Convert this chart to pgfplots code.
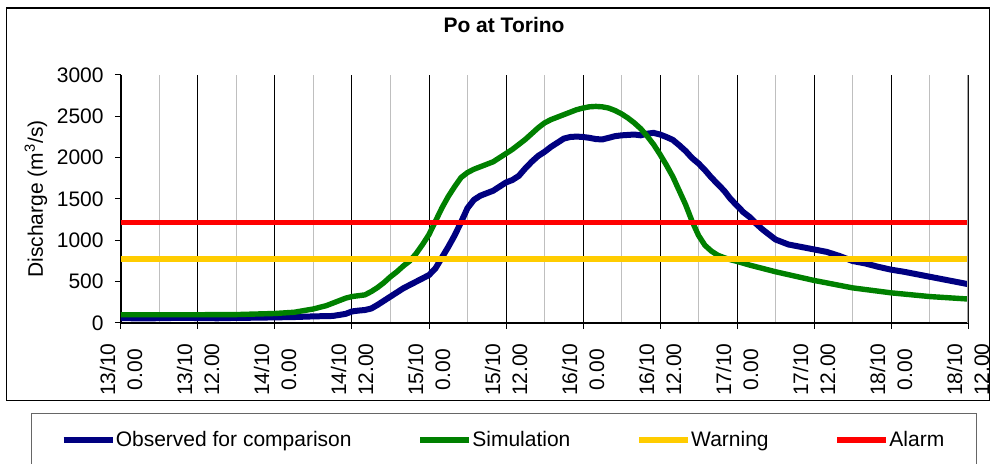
\documentclass[border=0pt]{standalone}
\usepackage{fontspec}
\setmainfont{Liberation Sans}
\usepackage{pgfplots}
\pgfplotsset{compat=1.18}
\definecolor{obsblue}{RGB}{0,0,128}
\definecolor{simgreen}{RGB}{0,128,0}
\definecolor{warnyellow}{RGB}{255,204,0}
\definecolor{alarmred}{RGB}{255,0,0}
\begin{document}
\fontsize{10.5}{13.5}\selectfont
\begin{tikzpicture}[font=\fontsize{10.5}{13.5}\selectfont]
\path[use as bounding box] (-60.5pt,-70.5pt) rectangle (435pt,161.5pt);
\begin{axis}[
  scale only axis, width=423.5pt, height=124pt,
  xmin=0, xmax=132, ymin=0, ymax=3000,
  separate axis lines,
  axis x line*=bottom, axis y line*=left,
  axis line style={-, black, line width=0.6pt},
  tick align=outside, major tick length=3pt, minor tick length=0pt,
  tick style={black, line width=0.5pt},
  xtick={0,12,...,132},
  minor xtick={6,18,...,126},
  xticklabels={{13/10\\0.00},{13/10\\12.00},{14/10\\0.00},{14/10\\12.00},{15/10\\0.00},{15/10\\12.00},{16/10\\0.00},{16/10\\12.00},{17/10\\0.00},{17/10\\12.00},{18/10\\0.00},{18/10\\12.00}},
  xticklabel style={rotate=90, anchor=east, align=center, inner sep=0pt},
  xticklabel shift=7pt,
  ytick={0,500,...,3000},
  yticklabel style={inner sep=0pt, anchor=east},
  yticklabel shift=5.5pt,
  /pgf/number format/assume math mode=true,
  /pgf/number format/1000 sep={},
  xmajorgrids, xminorgrids,
  major x grid style={black, line width=0.5pt},
  minor x grid style={black!25, line width=0.6pt},
  ylabel={Discharge (m\textsuperscript{3}/s)},
  ylabel style={at={(axis description cs:-0.1004,0.5)}, anchor=center, rotate=0},
  title={\textbf{Po at Torino}},
  title style={at={(axis description cs:0.4522,1.1532)}, anchor=center, inner sep=0pt},
  legend columns=4,
  legend style={draw=none, fill=none, at={(axis description cs:-0.0720,-0.4718)}, anchor=west, inner sep=0pt,
    nodes={inner sep=0pt, anchor=west},
    /tikz/every even column/.append style={column sep=32.7pt}},
  legend image code/.code={\draw[#1, line width=3.2pt] (0pt,0pt) -- (24.5pt,0pt);},
]
\addplot[obsblue, line width=3pt, line join=round] coordinates {
(0,60) (3,55) (6,58) (9,62) (12,60) (15,57) (18,62) (21,64) (24,68) (27,72) (30,80) (33,85) (35,110) (36,140)
(37,150) (38,157) (39,175) (40,220) (41,270) (42,320) (43,370) (44,420) (45,460)
(46,500) (47,540) (48,580) (49,660) (50,790) (51,920) (52,1060) (53,1220) (54,1390)
(55,1490) (56,1540) (57,1570) (58,1600) (59,1650) (60,1700) (61,1730) (62,1780)
(63,1870) (64,1950) (65,2020) (66,2070) (67,2130) (68,2180) (69,2230) (70,2250)
(71,2255) (72,2250) (73,2240) (74,2225) (75,2220) (76,2240) (77,2260) (78,2270)
(79,2275) (80,2280) (81,2270) (82,2290) (83,2300) (84,2280) (85,2250) (86,2215)
(87,2150) (88,2080) (89,1995) (90,1930) (91,1850) (92,1760) (93,1680) (94,1600)
(95,1500) (96,1420) (97,1340) (98,1280) (99,1200) (100,1130) (101,1070) (102,1010)
(103,980) (104,950) (106,920) (108,890) (110,860) (112,810) (114,750) (116,720)
(118,680) (120,645) (122,620) (124,590) (126,560) (128,530) (130,500) (132,470)
};
\addlegendentry{Observed for comparison}
\addplot[simgreen, line width=2.7pt, line join=round] coordinates {
(0,100) (6,100) (12,100) (18,102) (24,115) (27,130) (30,170) (32,210) (33,240)
(34,270) (35,300) (36,320) (37,330) (38,340) (39,380) (40,430) (41,490) (42,560)
(43,620) (44,690) (45,750) (46,840) (47,950) (48,1070) (49,1230) (50,1390)
(51,1530) (52,1650) (53,1760) (54,1820) (55,1860) (56,1890) (57,1920) (58,1950)
(59,2000) (60,2050) (61,2100) (62,2160) (63,2220) (64,2290) (65,2360) (66,2420)
(67,2460) (68,2490) (69,2520) (70,2550) (71,2580) (72,2600) (73,2615) (74,2620)
(75,2615) (76,2600) (77,2570) (78,2530) (79,2480) (80,2420) (81,2350) (82,2260)
(83,2160) (84,2040) (85,1910) (86,1770) (87,1600) (88,1430) (89,1230) (90,1060)
(91,940) (92,870) (93,820) (94,790) (95,765) (96,745) (98,700) (100,660) (102,620)
(104,585) (106,550) (108,515) (110,485) (112,455) (114,425) (116,405) (118,385)
(120,365) (122,350) (124,335) (126,320) (128,310) (130,300) (132,290)
};
\addlegendentry{Simulation}
\addplot[warnyellow, line width=2.6pt] coordinates {(0,775) (132,775)};
\addlegendentry{Warning}
\addplot[alarmred, line width=2.6pt] coordinates {(0,1220) (132,1220)};
\addlegendentry{Alarm}
\draw[black!35, line width=0.8pt] (axis cs:132,0) -- (axis cs:132,3000);
\end{axis}
\draw[black, line width=0.7pt] (-57.2pt,-38.8pt) rectangle (434.2pt,157.4pt);
\draw[black!60, line width=0.7pt] (-44.7pt,-85pt) rectangle (427.8pt,-45.2pt);
\end{tikzpicture}
\end{document}
